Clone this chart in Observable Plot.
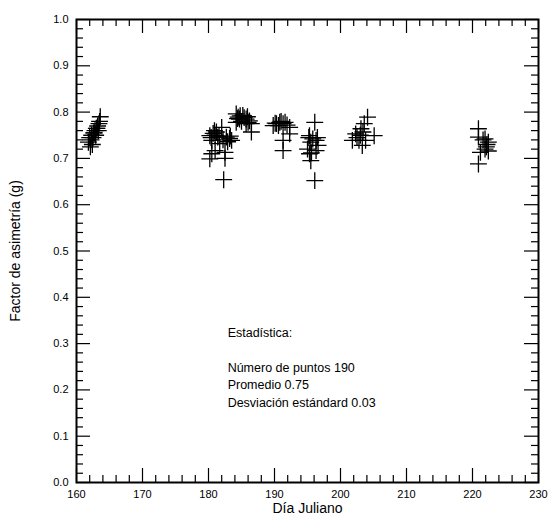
<!DOCTYPE html>
<html>
<head>
<meta charset="utf-8">
<script src="https://cdn.jsdelivr.net/npm/d3@7"></script>
<script src="https://cdn.jsdelivr.net/npm/@observablehq/plot@0.6"></script>
<style>
  html, body { margin: 0; padding: 0; background: #fff; }
  #chart svg { display: block; }
</style>
</head>
<body>
<div id="chart"></div>
<script>
// Data
const dias = [
  161.8,162.0,162.2,162.3,162.5,162.6,162.8,162.9,163.0,163.2,163.3,163.5,163.6,163.4,162.4,162.1,162.7,163.1,
  180.2,180.5,180.2,180.5,181.0,181.2,182.0,182.5,182.5,182.3,182.7,183.2,183.5,181.4,181.7,180.7,180.4,181.0,181.6,182.2,182.9,183.3,180.9,
  184.2,184.5,184.7,185.2,185.7,186.0,186.5,186.5,184.2,185.7,185.0,184.8,185.4,186.2,184.4,185.9,
  190.3,190.8,191.3,191.6,192.3,192.3,191.3,191.3,189.8,190.6,191.0,191.9,190.1,
  196.1,195.3,195.5,195.0,195.3,195.5,196.3,196.6,196.3,196.1,195.8,195.2,195.6,196.5,
  204.1,203.6,203.1,202.3,201.8,202.8,203.3,205.1,203.8,203.0,202.5,203.4,
  220.9,220.9,221.9,222.4,221.9,221.2,220.9,222.1,222.4,221.6,222.2
];
const factor = [
  0.735,0.745,0.740,0.750,0.745,0.755,0.760,0.750,0.765,0.770,0.760,0.780,0.790,0.775,0.730,0.725,0.755,0.765,
  0.749,0.739,0.699,0.710,0.717,0.757,0.767,0.713,0.700,0.654,0.746,0.743,0.739,0.746,0.732,0.754,0.745,0.750,0.748,0.740,0.736,0.748,0.760,
  0.796,0.789,0.785,0.793,0.785,0.778,0.775,0.757,0.778,0.775,0.780,0.792,0.788,0.781,0.786,0.790,
  0.775,0.778,0.775,0.778,0.767,0.753,0.739,0.717,0.771,0.771,0.780,0.772,0.776,
  0.778,0.749,0.735,0.720,0.710,0.695,0.739,0.728,0.717,0.652,0.742,0.745,0.712,0.745,
  0.789,0.775,0.764,0.753,0.739,0.739,0.728,0.749,0.739,0.750,0.745,0.757,
  0.764,0.746,0.742,0.735,0.720,0.713,0.688,0.725,0.716,0.740,0.730
];
const xTicks = [160,170,180,190,200,210,220,230];
const yTicks = [0,0.1,0.2,0.3,0.4,0.5,0.6,0.7,0.8,0.9,1.0];
const xMinor = d3.range(160, 231, 2).filter(v => v % 10 !== 0);
const yMinor = d3.range(0, 51, 1).map(v => v / 50).filter((v, i) => i % 5 !== 0);
const statLines = ["Estadística:", "", "Número de puntos 190", "Promedio 0.75", "Desviación estándard 0.03"];
const xTitle = "Día Juliano";
const yTitle = "Factor de asimetría (g)";

const points = dias.map((d, i) => ({dia: d, g: factor[i]}));

const W = 550, H = 521;
const mL = 76, mR = 12, mT = 19, mB = 39;
const fw = W - mL - mR, fh = H - mT - mB;
const majorLen = 14, minorLen = 7;

const chart = Plot.plot({
  width: W, height: H,
  marginLeft: mL, marginRight: mR, marginTop: mT, marginBottom: mB,
  style: {fontFamily: "'Liberation Sans', Arial, sans-serif", fontSize: "11px", color: "#000", background: "#fff"},
  x: {domain: [160, 230]},
  y: {domain: [0, 1]},
  marks: [
    // ticks pointing inward on all four sides
    Plot.ruleX(xTicks, {x: d => d, insetTop: fh - majorLen, stroke: "#000", strokeWidth: 1.2}),
    Plot.ruleX(xTicks, {x: d => d, insetBottom: fh - majorLen, stroke: "#000", strokeWidth: 1.2}),
    Plot.ruleX(xMinor, {x: d => d, insetTop: fh - minorLen, stroke: "#000", strokeWidth: 1.2}),
    Plot.ruleX(xMinor, {x: d => d, insetBottom: fh - minorLen, stroke: "#000", strokeWidth: 1.2}),
    Plot.ruleY(yTicks, {y: d => d, insetRight: fw - majorLen, stroke: "#000", strokeWidth: 1.2}),
    Plot.ruleY(yTicks, {y: d => d, insetLeft: fw - majorLen, stroke: "#000", strokeWidth: 1.2}),
    Plot.ruleY(yMinor, {y: d => d, insetRight: fw - minorLen, stroke: "#000", strokeWidth: 1.2}),
    Plot.ruleY(yMinor, {y: d => d, insetLeft: fw - minorLen, stroke: "#000", strokeWidth: 1.2}),
    Plot.frame({stroke: "#000", strokeWidth: 2}),
    Plot.axisX(xTicks, {tickSize: 0, tickPadding: 8, tickFormat: d => String(d), fontSize: 11,
      label: xTitle, labelAnchor: "center", labelArrow: "none", labelOffset: 30}),
    Plot.axisY(yTicks, {tickSize: 0, tickPadding: 8, tickFormat: d => d.toFixed(1), fontSize: 11,
      label: yTitle, labelAnchor: "center", labelArrow: "none", labelOffset: 66}),
    Plot.dot(points, {x: "dia", y: "g", symbol: "plus", r: 5.5, stroke: "#000", strokeWidth: 1.3}),
    Plot.text([statLines.join("\n")], {x: 182.9, y: 0.342, text: d => d, textAnchor: "start",
      lineAnchor: "top", lineHeight: 1.4, fontSize: 12.5, fill: "#000"})
  ]
});
// enlarge axis titles
chart.querySelectorAll("g[aria-label='x-axis label'] text, g[aria-label='y-axis label'] text").forEach(t => t.setAttribute("font-size", "14"));
document.getElementById("chart").appendChild(chart);
</script>
</body>
</html>
